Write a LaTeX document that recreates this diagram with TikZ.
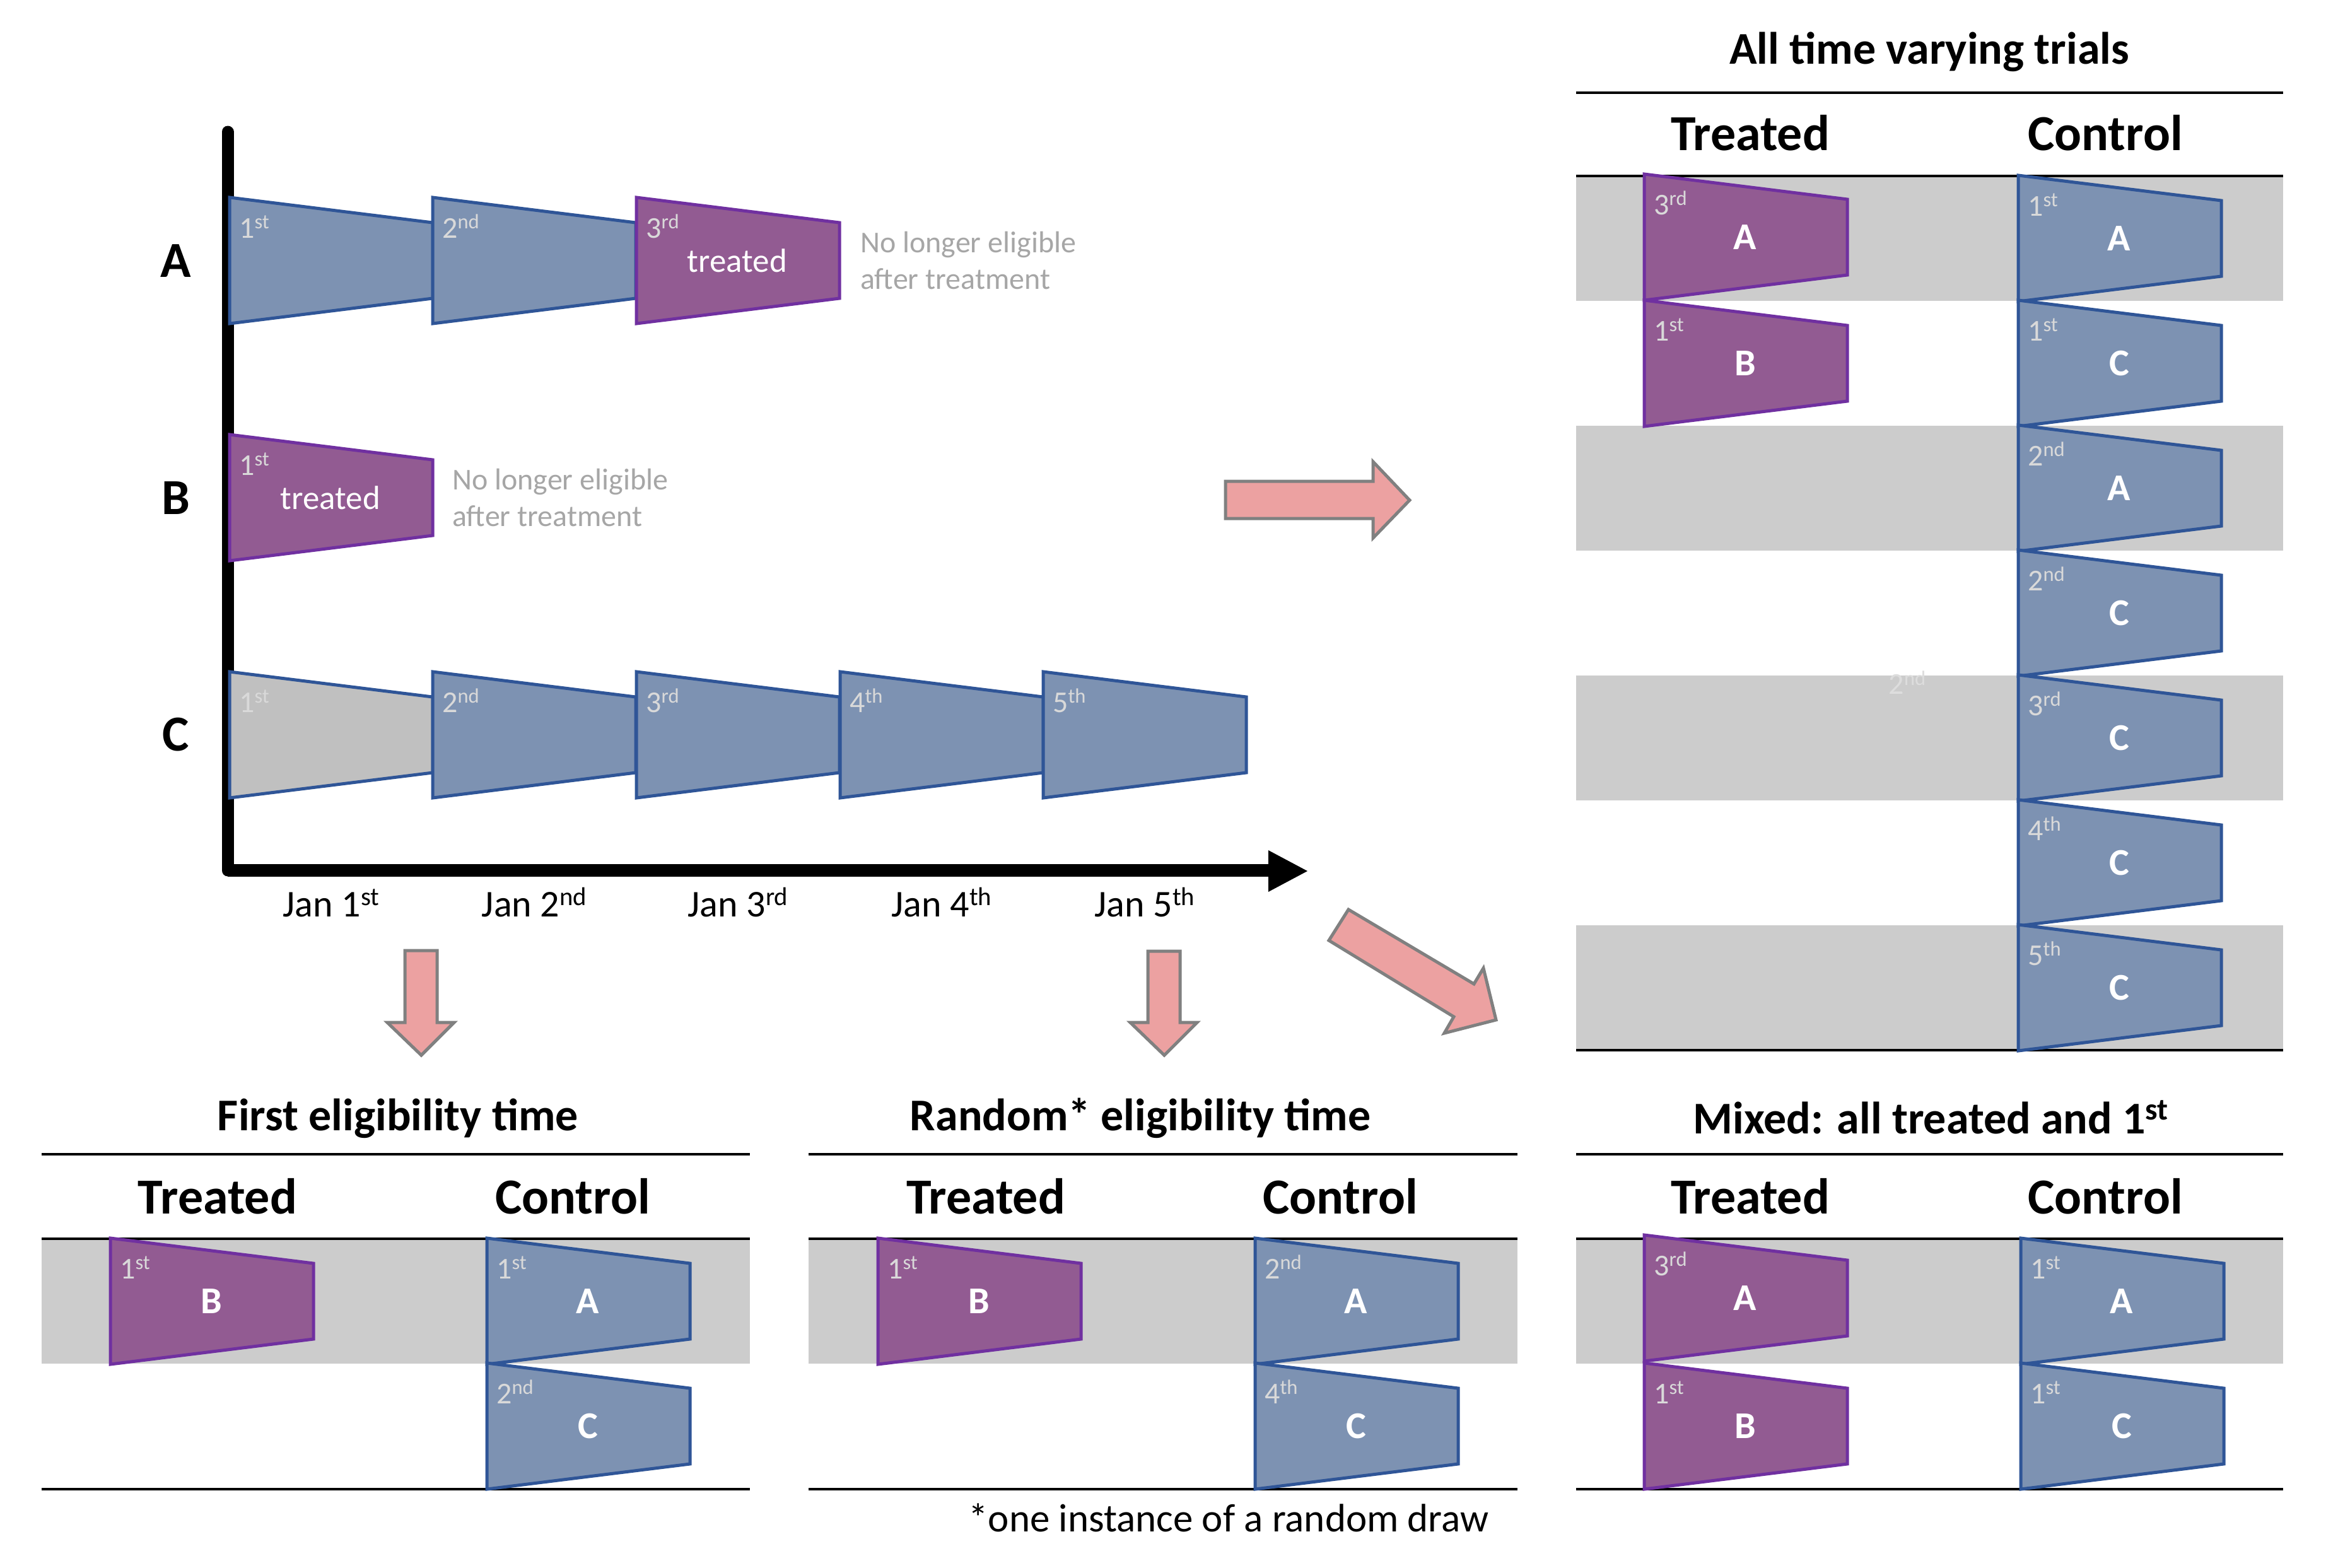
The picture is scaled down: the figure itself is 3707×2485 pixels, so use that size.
\documentclass[tikz,border=0pt]{standalone}
\usepackage{fontspec}
\setmainfont{Carlito}
\usepackage{graphicx}
\definecolor{trapblue}{HTML}{7D92B2}
\definecolor{borderblue}{HTML}{2F5597}
\definecolor{trappurple}{HTML}{925B92}
\definecolor{borderpurple}{HTML}{7030A0}
\definecolor{trapgray}{HTML}{C0C0C0}
\definecolor{bandgray}{HTML}{CCCCCC}
\definecolor{ordgray}{HTML}{D9D9D9}
\definecolor{notegray}{HTML}{A6A6A6}
\definecolor{arrowpink}{HTML}{ECA1A1}
\definecolor{arrowgray}{HTML}{808080}
\definecolor{straygray}{HTML}{DDDDDD}
\newcommand\sps[1]{\raisebox{0.3em}{\scalebox{0.68}{#1}}}
\newcommand\fTitle{\fontsize{72}{86}\selectfont\bfseries}
\newcommand\fHead{\fontsize{80}{96}\selectfont\bfseries}
\newcommand\fDate{\fontsize{60}{72}\selectfont}
\newcommand\fFoot{\fontsize{63}{76}\selectfont}
\newcommand\fNote{\fontsize{48}{58}\selectfont}
\newcommand\fOrd{\fontsize{48}{58}\selectfont}
\newcommand\fLet{\fontsize{60}{72}\selectfont\bfseries}
\newcommand\fTreated{\fontsize{53}{64}\selectfont}
\tikzset{
 bluetrap/.style={fill=trapblue, draw=borderblue, line width=5pt},
 purpletrap/.style={fill=trappurple, draw=borderpurple, line width=5pt},
 graytrap/.style={fill=trapgray, draw=borderblue, line width=5pt},
 ordtxt/.style={text=ordgray, font=\fOrd, inner sep=0pt, anchor=base west},
 lettxt/.style={text=white, font=\fLet, inner sep=0pt},
 treatedtxt/.style={text=white, font=\fTreated, inner sep=0pt},
 band/.style={fill=bandgray, draw=none},
 rule/.style={line width=4.5pt, draw=black},
 headtxt/.style={font=\fHead, anchor=base, inner sep=0pt},
 titletxt/.style={font=\fTitle, anchor=base, inner sep=0pt},
 pinkarrow/.style={fill=arrowpink, draw=arrowgray, line width=5pt, line join=miter},
 datetxt/.style={font=\fDate, anchor=base, inner sep=0pt},
 notetxt/.style={font=\fNote, text=notegray, align=left, anchor=west, inner sep=0pt},
 rowtxt/.style={font=\fHead, inner sep=0pt},
}
% name, style, x left, y centre, ordinal, centre text, centre style
\newcommand\trapz[7]{%
 \draw[#2] (#3,#4-100) -- ++(322,40) -- ++(0,120) -- (#3,#4+100) -- cycle;
 \node[ordtxt] (#1-o) at (#3+15,#4-36) {#5};
 \node[#7] (#1) at (#3+160,#4) {#6};
}
\begin{document}
\begin{tikzpicture}[x=1pt,y=-1pt]
\useasboundingbox[fill=white] (0,0) rectangle (3707,2485);

% ---------- timeline ----------
\draw[line width=19pt, line cap=round] (361,209) -- (361,1380);
\draw[line width=20pt] (361,1380) -- (2013,1380);
\fill (2011,1348) -- (2073,1381) -- (2011,1414) -- cycle;

\node[rowtxt] (rowA) at (279,414) {A};
\node[rowtxt] (rowB) at (279,790) {B};
\node[rowtxt] (rowC) at (279,1165) {C};

\trapz{a1}{bluetrap}{364}{413}{1\sps{st}}{}{lettxt}
\trapz{a2}{bluetrap}{686}{413}{2\sps{nd}}{}{lettxt}
\trapz{a3}{purpletrap}{1009}{413}{3\sps{rd}}{treated}{treatedtxt}
\node[notetxt] (noteA) at (1364,413) {No longer eligible\\after treatment};

\trapz{b1}{purpletrap}{364}{789}{1\sps{st}}{treated}{treatedtxt}
\node[notetxt] (noteB) at (717,789) {No longer eligible\\after treatment};

\trapz{c1}{graytrap}{364}{1165}{1\sps{st}}{}{lettxt}
\trapz{c2}{bluetrap}{686}{1165}{2\sps{nd}}{}{lettxt}
\trapz{c3}{bluetrap}{1009}{1165}{3\sps{rd}}{}{lettxt}
\trapz{c4}{bluetrap}{1332}{1165}{4\sps{th}}{}{lettxt}
\trapz{c5}{bluetrap}{1654}{1165}{5\sps{th}}{}{lettxt}

\node[datetxt] (d1) at (525,1453) {Jan 1\sps{st}};
\node[datetxt] (d2) at (847,1453) {Jan 2\sps{nd}};
\node[datetxt] (d3) at (1170,1453) {Jan 3\sps{rd}};
\node[datetxt] (d4) at (1493,1453) {Jan 4\sps{th}};
\node[datetxt] (d5) at (1815,1453) {Jan 5\sps{th}};

% ---------- pink arrows ----------
\draw[pinkarrow] (1943,763) -- (2177,763) -- (2177,732) -- (2235,793) -- (2177,853) -- (2177,822) -- (1943,822) -- cycle;
\draw[pinkarrow] (2138,1442) -- (2337,1560) -- (2352,1535) -- (2372,1617) -- (2290,1638) -- (2305,1612) -- (2107,1491) -- cycle;
\draw[pinkarrow] (642,1507) -- (693,1507) -- (693,1621) -- (720,1621) -- (668,1673) -- (614,1621) -- (642,1621) -- cycle;
\draw[pinkarrow] (1820,1508) -- (1871,1508) -- (1871,1621) -- (1898,1621) -- (1846,1673) -- (1792,1621) -- (1820,1621) -- cycle;

% ---------- all time varying trials ----------
\foreach \k in {0,2,4,6} {\fill[band] (2499,279+198*\k) rectangle (3620,279+198*\k+198);}
\draw[rule] (2499,147) -- (3620,147);
\draw[rule] (2499,279) -- (3620,279);
\draw[rule] (2499,1665) -- (3620,1665);
\node[titletxt] (t0) at (3059,101) {All time varying trials};
\node[headtxt] (h0t) at (2775,238) {Treated};
\node[headtxt] (h0c) at (3338,238) {Control};
\node[ordtxt, anchor=center, text=straygray] (stray) at (3024,1082) {2\sps{nd}};

\trapz{rt0}{purpletrap}{2607}{376}{3\sps{rd}}{A}{lettxt}
\trapz{rt1}{purpletrap}{2607}{576}{1\sps{st}}{B}{lettxt}
\trapz{rc0}{bluetrap}{3200}{378}{1\sps{st}}{A}{lettxt}
\trapz{rc1}{bluetrap}{3200}{576}{1\sps{st}}{C}{lettxt}
\trapz{rc2}{bluetrap}{3200}{774}{2\sps{nd}}{A}{lettxt}
\trapz{rc3}{bluetrap}{3200}{972}{2\sps{nd}}{C}{lettxt}
\trapz{rc4}{bluetrap}{3200}{1170}{3\sps{rd}}{C}{lettxt}
\trapz{rc5}{bluetrap}{3200}{1368}{4\sps{th}}{C}{lettxt}
\trapz{rc6}{bluetrap}{3200}{1566}{5\sps{th}}{C}{lettxt}

% ---------- bottom panels ----------
\fill[band] (66,1964) rectangle (1189,2162);
\fill[band] (1282,1964) rectangle (2406,2162);
\fill[band] (2499,1964) rectangle (3620,2162);
\foreach \xa/\xb in {66/1189,1282/2406,2499/3620} {
  \draw[rule] (\xa,1830) -- (\xb,1830);
  \draw[rule] (\xa,1964) -- (\xb,1964);
  \draw[rule] (\xa,2361) -- (\xb,2361);
}
\node[titletxt] (t1) at (631,1792) {First eligibility time};
\node[titletxt] (t2) at (1808,1792) {Random* eligibility time};
\node[titletxt] (t3) at (3061,1797) {Mixed: all treated and 1\sps{st}};
\node[headtxt] (h1t) at (345,1924) {Treated};
\node[headtxt] (h1c) at (908,1924) {Control};
\node[headtxt] (h2t) at (1563,1924) {Treated};
\node[headtxt] (h2c) at (2125,1924) {Control};
\node[headtxt] (h3t) at (2775,1924) {Treated};
\node[headtxt] (h3c) at (3338,1924) {Control};

\trapz{p1t0}{purpletrap}{175}{2063}{1\sps{st}}{B}{lettxt}
\trapz{p1c0}{bluetrap}{772}{2063}{1\sps{st}}{A}{lettxt}
\trapz{p1c1}{bluetrap}{772}{2261}{2\sps{nd}}{C}{lettxt}

\trapz{p2t0}{purpletrap}{1392}{2063}{1\sps{st}}{B}{lettxt}
\trapz{p2c0}{bluetrap}{1990}{2063}{2\sps{nd}}{A}{lettxt}
\trapz{p2c1}{bluetrap}{1990}{2261}{4\sps{th}}{C}{lettxt}

\trapz{p3t0}{purpletrap}{2607}{2058}{3\sps{rd}}{A}{lettxt}
\trapz{p3t1}{purpletrap}{2607}{2261}{1\sps{st}}{B}{lettxt}
\trapz{p3c0}{bluetrap}{3204}{2063}{1\sps{st}}{A}{lettxt}
\trapz{p3c1}{bluetrap}{3204}{2261}{1\sps{st}}{C}{lettxt}

\node[font=\fFoot, anchor=base, inner sep=0pt] (foot) at (1948,2428) {*one instance of a random draw};
\end{tikzpicture}
\end{document}
